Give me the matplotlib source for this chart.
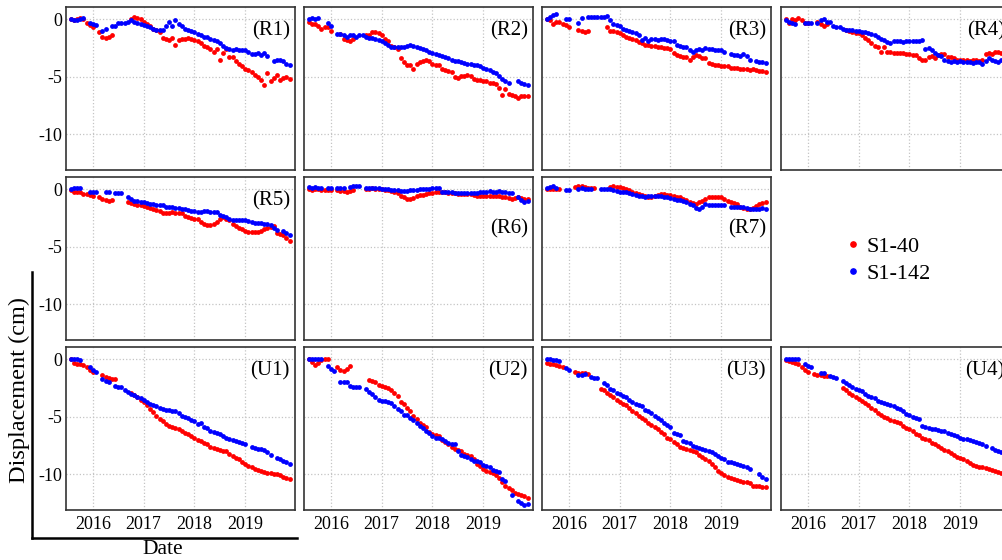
import numpy as np
import matplotlib.pyplot as plt
from matplotlib.lines import Line2D

plt.rcParams['font.family'] = ['Liberation Serif', 'DejaVu Serif']
plt.rcParams['axes.unicode_minus'] = False

nan = np.nan

# acquisition dates, decimal years
dates = [2015.562, 2015.625, 2015.688, 2015.750, 2015.812, 2015.875, 2015.938,
         2016.000, 2016.062, 2016.125, 2016.188, 2016.250, 2016.312, 2016.375, 2016.438,
         2016.500, 2016.562, 2016.625, 2016.688, 2016.750, 2016.812, 2016.875, 2016.938,
         2017.000, 2017.062, 2017.125, 2017.188, 2017.250, 2017.312, 2017.375, 2017.438,
         2017.500, 2017.562, 2017.625, 2017.688, 2017.750, 2017.812, 2017.875, 2017.938,
         2018.000, 2018.062, 2018.125, 2018.188, 2018.250, 2018.312, 2018.375, 2018.438,
         2018.500, 2018.562, 2018.625, 2018.688, 2018.750, 2018.812, 2018.875, 2018.938,
         2019.000, 2019.062, 2019.125, 2019.188, 2019.250, 2019.312, 2019.375, 2019.438,
         2019.500, 2019.562, 2019.625, 2019.688, 2019.750, 2019.812, 2019.875]

# displacement (cm), S1-40 track
r1_40 = [0, -0.1, 0, 0.1, 0, -0.3, -0.5,
         -0.7, nan, -1.1, -1.5, -1.6, -1.5, -1.4, nan, nan, nan, nan, nan, 0.0, 0.2, 0.1, 0.0,
         -0.2, -0.4, -0.6, -0.8, -0.9, -1.1, -1.6, -1.7, -1.8, -1.6, -2.2, -1.8, -1.7, -1.7, -1.6, -1.7,
         -1.8, -1.9, -2.1, -2.3, -2.4, -2.6, -2.8, -2.6, -3.5, -2.9, -2.6, -3.3, -3.3, -3.6, -3.9, -4.1,
         -4.3, -4.4, -4.6, -4.8, -5.0, -5.3, -5.7, -4.7, -5.4, -5.1, -4.8, -5.3, -5.1, -5.0, -5.2]
r2_40 = [-0.2, -0.4, -0.4, -0.6, -0.8, -0.7, -0.7,
         -1.0, nan, nan, -1.3, -1.7, -1.8, -1.9, -1.7, nan, nan, nan, -1.4, -1.4, -1.1, -1.1, -1.2,
         -1.4, -1.7, -1.9, -2.3, -2.4, -2.6, -3.4, -3.7, -4.0, -4.0, -4.3, -3.9, -3.7, -3.6, -3.5, -3.6,
         -3.9, -4.0, -4.0, -4.3, -4.4, -4.5, -4.6, -5.0, -5.1, -4.9, -4.9, -4.8, -4.9, -5.2, -5.3, -5.3,
         -5.4, -5.4, -5.5, -5.5, -5.6, -6.0, -6.6, -6.1, -6.5, -6.6, -6.7, -6.8, -6.7, -6.7, -6.7]
r3_40 = [0.0, -0.1, -0.4, -0.2, -0.2, -0.4, -0.5,
         -0.7, nan, nan, -0.9, -1.0, -1.1, -1.0, nan, nan, nan, nan, nan, -0.7, -1.0, -1.0, -1.1,
         -1.2, -1.4, -1.5, -1.6, -1.7, -1.8, -2.0, -2.1, -2.2, -2.2, -2.3, -2.3, -2.4, -2.4, -2.5, -2.5,
         -2.6, -2.9, -3.1, -3.2, -3.3, -3.3, -3.5, -3.3, -3.1, -3.2, -3.4, -3.4, -3.8, -3.9, -4.0, -4.0,
         -4.1, -4.1, -4.1, -4.2, -4.2, -4.2, -4.3, -4.3, -4.3, -4.4, -4.3, -4.4, -4.5, -4.5, -4.6]
r4_40 = [0.0, -0.3, 0.0, -0.1, 0.1, -0.1, -0.3,
         -0.3, nan, nan, -0.2, -0.4, -0.6, -0.4, nan, nan, nan, nan, nan, -0.9, -1.0, -1.1, -1.2,
         -1.2, -1.4, -1.6, -1.8, -2.1, -2.3, -2.4, -2.8, -2.4, -2.8, -2.8, -2.9, -2.9, -2.9, -2.95, -3.0,
         -3.0, -3.1, -3.1, -3.4, -3.5, -3.5, -3.3, -3.2, -3.4, -3.1, -3.0, -3.0, -3.3, -3.3, -3.4, -3.5,
         -3.5, -3.5, -3.5, -3.6, -3.5, -3.5, -3.6, -3.5, -3.0, -2.9, -3.0, -2.8, -2.8, -2.9, -2.8]
r5_40 = [-0.1, -0.2, -0.2, -0.25, -0.4, -0.4, -0.5,
         -0.6, nan, -0.7, -0.8, -0.9, -1.0, -0.95, nan, nan, nan, nan, -1.1, -1.2, -1.3, -1.35, -1.4,
         -1.45, -1.5, -1.6, -1.7, -1.8, -1.85, -2.1, -2.1, -2.1, -2.0, -2.05, -2.1, -2.1, -2.3, -2.4, -2.5,
         -2.6, -2.6, -2.85, -3.0, -3.1, -3.1, -3.0, -2.8, -2.6, -2.45, -2.6, -2.7, -3.0, -3.2, -3.35, -3.45,
         -3.6, -3.7, -3.75, -3.7, -3.7, -3.6, -3.45, -3.4, -3.3, -3.15, -3.8, -3.9, -4.0, -4.2, -4.5]
r6_40 = [0.0, -0.1, 0.0, 0.0, -0.05, -0.05, -0.1,
         -0.1, nan, -0.1, -0.15, -0.15, -0.2, -0.15, -0.1, nan, nan, nan, 0.05, 0.05, 0.1, 0.05, 0.0,
         0.0, -0.05, -0.1, -0.15, -0.2, -0.3, -0.6, -0.7, -0.8, -0.8, -0.75, -0.6, -0.5, -0.5, -0.45, -0.35,
         -0.3, -0.25, -0.25, -0.2, -0.25, -0.3, -0.3, -0.35, -0.4, -0.4, -0.45, -0.45, -0.45, -0.5, -0.55, -0.55,
         -0.55, -0.55, -0.55, -0.55, -0.6, -0.6, -0.7, -0.7, -0.75, -0.8, -0.75, -0.7, -0.75, -0.8, -0.85]
r7_40 = [0.0, 0.05, 0.0, 0.0, 0.0, nan, nan,
         nan, nan, 0.2, 0.3, 0.25, 0.2, 0.1, 0.1, 0.1, nan, nan, nan, nan, 0.2, 0.25, 0.2,
         0.2, 0.1, 0.0, -0.1, -0.2, -0.3, -0.4, -0.5, -0.6, -0.65, -0.7, -0.6, -0.5, -0.45, -0.4, -0.5,
         -0.5, -0.6, -0.65, -0.7, -0.8, -0.9, -1.1, -1.2, -1.25, -1.1, -1.0, -0.8, -0.7, -0.7, -0.65, -0.7,
         -0.7, -0.8, -1.0, -1.1, -1.2, -1.3, -1.5, -1.6, -1.7, -1.7, -1.6, -1.45, -1.3, -1.2, -1.1]
u1_40 = [0.0, -0.3, -0.4, -0.4, -0.5, -0.7, -0.9,
         -1.1, nan, nan, -1.4, -1.5, -1.6, -1.7, -1.7, nan, nan, nan, nan, -2.9, -3.1, -3.3, -3.5,
         -3.7, -4.0, -4.3, -4.6, -4.9, -5.2, -5.4, -5.6, -5.8, -5.9, -6.0, -6.1, -6.2, -6.4, -6.5, -6.7,
         -6.8, -7.0, -7.1, -7.3, -7.4, -7.6, -7.7, -7.8, -7.9, -8.0, -8.0, -8.2, -8.4, -8.6, -8.7, -8.9,
         -9.1, -9.3, -9.4, -9.5, -9.6, -9.7, -9.8, -9.9, -9.9, -10.0, -10.0, -10.1, -10.2, -10.3, -10.4]
u2_40 = [0.0, -0.2, -0.5, -0.3, -0.1, 0.0, 0.0,
         nan, nan, -0.7, -0.9, -1.0, -0.8, -0.6, nan, nan, nan, nan, nan, -1.8, -1.9, -2.0, -2.2,
         -2.3, -2.4, -2.5, -2.7, -2.9, -3.2, -3.7, -3.9, -4.2, -4.5, -4.9, -5.2, -5.5, -5.7, -5.9, -6.3,
         -6.5, -6.6, -6.7, -7.0, -7.2, -7.4, -7.6, -7.8, -7.9, -8.0, -8.2, -8.3, -8.4, -8.7, -9.1, -9.3,
         -9.5, -9.7, -9.8, -9.9, -10.1, -10.3, -10.7, -11.0, -11.2, -11.4, -11.6, -11.7, -11.8, -11.9, -12.1]
u3_40 = [-0.3, -0.4, -0.4, -0.5, -0.6, -0.7, nan,
         nan, nan, -1.1, -1.2, -1.2, -1.2, -1.3, nan, nan, nan, -2.6, -2.7, -2.9, -3.1, -3.3, -3.5,
         -3.7, -3.9, -4.0, -4.2, -4.5, -4.7, -4.9, -5.1, -5.3, -5.5, -5.7, -5.9, -6.1, -6.3, -6.5, -6.8,
         -6.95, -7.2, -7.4, -7.6, -7.7, -7.8, -7.9, -8.0, -8.1, -8.3, -8.5, -8.7, -8.85, -9.1, -9.4, -9.7,
         -9.9, -10.1, -10.2, -10.3, -10.4, -10.45, -10.6, -10.65, -10.7, -10.75, -11.0, -11.0, -11.05, -11.1, -11.1]
u4_40 = [-0.05, -0.15, -0.25, -0.35, -0.45, -0.7, -0.9,
         -1.1, nan, -1.3, -1.35, -1.4, -1.45, -1.45, nan, nan, nan, nan, -2.5, -2.7, -2.9, -3.1, -3.3,
         -3.45, -3.6, -3.8, -4.0, -4.2, -4.4, -4.65, -4.8, -5.0, -5.1, -5.25, -5.35, -5.45, -5.55, -5.8, -5.95,
         -6.1, -6.25, -6.5, -6.6, -6.8, -6.9, -7.0, -7.25, -7.4, -7.55, -7.7, -7.85, -8.0, -8.15, -8.3, -8.5,
         -8.6, -8.7, -8.85, -9.0, -9.15, -9.25, -9.35, -9.4, -9.45, -9.5, -9.6, -9.7, -9.8, -9.9, -9.95]

# displacement (cm), S1-142 track
r1_142 = [0, -0.1, -0.1, 0, 0.1, nan, -0.3,
          -0.4, -0.5, nan, -1.0, -0.8, nan, -0.6, -0.6, -0.3, -0.3, -0.3, -0.2, -0.1, -0.2, -0.3, -0.4,
          -0.5, -0.6, -0.7, -0.8, -0.9, -0.9, -0.9, -0.6, -0.2, -0.6, -0.1, -0.4, -0.6, -0.8, -0.9, -1.0,
          -1.1, -1.3, -1.4, -1.5, -1.5, -1.7, -1.8, -1.9, -2.1, -2.3, -2.5, -2.6, -2.7, -2.6, -2.7, -2.7,
          -2.7, -2.8, -3.0, -3.0, -2.9, -3.1, -2.9, -3.2, nan, -3.6, -3.5, -3.5, -3.6, -3.9, -4.0]
r2_142 = [0.0, 0.1, 0.0, 0.1, nan, nan, -0.3,
          -0.6, nan, -1.3, -1.3, -1.4, -1.5, -1.4, -1.4, -1.5, -1.4, -1.4, -1.5, -1.6, -1.6, -1.7, -1.8,
          -1.9, -2.1, -2.2, -2.4, -2.4, -2.4, -2.4, -2.4, -2.3, -2.2, -2.3, -2.4, -2.5, -2.6, -2.7, -2.8,
          -2.9, -3.0, -3.1, -3.2, -3.3, -3.4, -3.5, -3.6, -3.6, -3.7, -3.8, -3.9, -3.9, -4.0, -4.0, -4.1,
          -4.2, -4.3, -4.4, -4.6, -4.7, -4.9, -5.2, -5.4, -5.5, nan, nan, -5.4, -5.5, -5.6, -5.7]
r3_142 = [0.0, 0.2, 0.4, 0.45, nan, nan, 0.0,
          0.0, nan, nan, -0.3, 0.1, nan, 0.2, 0.2, 0.2, 0.2, 0.2, 0.2, 0.3, -0.1, -0.4, -0.5,
          -0.6, -0.8, -0.9, -1.0, -1.1, -1.2, -1.4, -1.8, -1.6, -1.9, -1.7, -1.7, -1.8, -1.7, -1.7, -1.8,
          -1.9, -1.9, -2.2, -2.3, -2.4, -2.4, -2.7, -2.8, -2.7, -2.6, -2.7, -2.5, -2.6, -2.6, -2.7, -2.7,
          -2.7, -2.8, nan, -3.0, -3.1, -3.1, -3.2, -3.0, -3.2, -3.5, nan, -3.6, -3.7, -3.7, -3.8]
r4_142 = [-0.1, -0.2, -0.3, -0.4, nan, nan, -0.3,
          -0.35, -0.35, nan, -0.3, -0.1, 0.0, -0.2, -0.2, -0.6, -0.7, -0.7, -0.8, -0.9, -0.9, -0.95, -1.0,
          -1.0, -1.1, -1.1, -1.2, -1.3, -1.4, -1.5, -1.7, -1.8, -2.0, -2.1, -1.9, -1.85, -1.9, -1.95, -1.9,
          -1.9, -1.85, -1.9, -1.85, -1.8, -2.6, -2.5, -2.7, -2.9, -3.1, -3.2, -3.5, -3.6, -3.7, -3.6, -3.7,
          -3.6, -3.7, -3.7, -3.7, -3.8, -3.7, -3.7, -3.85, -3.6, -3.4, -3.5, -3.6, -3.7, -3.5, -3.6]
r5_142 = [0.0, 0.1, 0.1, 0.1, nan, nan, -0.2,
          -0.2, -0.2, nan, nan, -0.2, -0.2, nan, -0.3, -0.3, -0.3, nan, -0.7, -0.8, -1.0, -1.0, -1.1,
          -1.1, -1.2, -1.3, -1.3, -1.35, -1.4, -1.4, -1.5, -1.55, -1.55, -1.6, -1.65, -1.7, -1.7, -1.8, -1.9,
          -1.9, -2.0, -1.95, -1.9, -1.9, -1.95, -2.0, -2.0, -2.2, -2.3, -2.4, -2.6, -2.7, -2.7, -2.7, -2.7,
          -2.7, -2.75, -2.8, -2.9, -2.9, -2.9, -3.0, -3.05, -3.1, -3.4, -3.5, nan, -3.6, -3.8, -3.95]
r6_142 = [0.2, 0.15, 0.2, 0.1, 0.1, nan, 0.1,
          0.1, nan, 0.1, 0.1, 0.1, nan, 0.2, 0.25, 0.3, 0.25, nan, 0.1, 0.15, 0.1, 0.1, 0.1,
          0.05, 0.05, 0.0, -0.05, -0.05, -0.1, -0.15, -0.15, -0.15, -0.1, -0.1, -0.05, 0.0, 0.0, 0.05, 0.05,
          0.1, 0.1, 0.1, -0.2, -0.2, -0.2, -0.25, -0.3, -0.3, -0.35, -0.35, -0.3, -0.35, -0.3, -0.3, -0.25,
          -0.25, -0.2, -0.15, -0.2, -0.2, -0.15, -0.2, -0.25, -0.35, -0.35, nan, -0.7, -0.9, -1.1, -1.0]
r7_142 = [0.1, 0.2, 0.3, 0.1, nan, nan, -0.1,
          -0.1, nan, nan, 0.05, 0.1, 0.05, 0.05, 0.0, nan, nan, 0.05, 0.05, 0.05, 0.0, -0.1, -0.15,
          -0.2, -0.2, -0.25, -0.3, -0.4, -0.5, -0.55, -0.6, -0.65, -0.6, -0.6, -0.6, -0.55, -0.6, -0.65, -0.7,
          -0.75, -0.85, -0.9, -0.95, -1.0, -1.1, -1.25, -1.4, -1.6, -1.7, -1.5, -1.3, -1.35, -1.4, -1.35, -1.35,
          -1.4, -1.4, nan, -1.5, -1.55, -1.55, -1.5, -1.55, -1.6, -1.7, -1.7, -1.7, -1.75, -1.6, -1.7]
u1_142 = [0.0, 0.0, 0.0, -0.1, nan, nan, -0.7,
          -0.9, -1.1, nan, -1.7, -1.9, -2.0, nan, -2.3, -2.4, -2.4, -2.7, -2.8, -3.0, -3.1, -3.3, -3.4,
          -3.5, -3.7, -3.9, -4.0, -4.1, -4.2, -4.3, -4.4, -4.4, -4.5, -4.5, -4.7, -4.9, -5.0, -5.1, -5.3,
          -5.4, -5.6, -5.5, -5.9, -6.0, -6.2, -6.3, -6.4, -6.5, -6.7, -6.8, -6.9, -7.0, -7.1, -7.2, -7.3,
          -7.4, nan, -7.6, -7.7, -7.8, -7.8, -7.9, -8.1, -8.3, nan, -8.6, -8.7, -8.8, -8.9, -9.1]
u2_142 = [0.0, 0.0, 0.0, 0.0, 0.0, nan, -0.6,
          -0.8, -1.0, nan, -2.0, -2.0, -2.0, -2.3, -2.4, -2.4, -2.4, nan, -2.6, -2.8, -3.0, -3.3, -3.5,
          -3.6, -3.6, -3.7, -3.8, -4.1, -4.3, -4.5, -4.8, -4.8, -5.1, -5.3, -5.5, -5.8, -6.0, -6.2, -6.4,
          -6.7, -6.8, -6.8, -6.9, -7.1, -7.3, -7.4, -7.4, -8.0, -8.3, -8.4, -8.5, -8.7, -8.8, -8.85, -8.9,
          -9.2, -9.3, -9.4, -9.6, -9.75, -9.8, -10.4, -10.6, nan, -11.8, nan, -12.3, -12.5, -12.7, -12.6]
u3_142 = [0.0, 0.0, -0.1, -0.1, -0.15, nan, -0.75,
          -0.9, nan, nan, -1.4, -1.35, -1.3, nan, -1.5, -1.6, -1.6, nan, -2.1, -2.2, -2.6, -2.7, -2.9,
          -3.0, -3.2, -3.3, -3.5, -3.7, -3.85, -4.0, -4.1, -4.4, -4.5, -4.65, -4.9, -5.1, -5.3, -5.5, -5.7,
          -5.9, -6.4, -6.5, -6.6, -7.1, -7.2, -7.3, -7.5, -7.6, -7.7, -7.8, -7.9, -8.0, -8.1, -8.2, -8.4,
          -8.6, -8.7, -8.9, -8.95, -9.0, -9.1, -9.15, -9.3, -9.4, -9.5, nan, nan, -10.0, -10.2, -10.4]
u4_142 = [0.0, 0.0, 0.0, 0.05, 0.0, nan, -0.45,
          -0.55, -0.65, nan, nan, -1.15, -1.15, nan, -1.45, -1.5, -1.6, nan, -1.9, -2.05, -2.2, -2.4, -2.55,
          -2.65, -2.75, -3.0, -3.15, -3.25, -3.35, -3.6, -3.7, -3.8, -3.9, -4.0, -4.1, -4.2, -4.3, -4.5, -4.75,
          -4.85, -5.0, -5.1, -5.2, -5.8, -5.9, -6.0, -6.05, -6.1, -6.15, -6.2, -6.25, -6.4, -6.5, -6.6, -6.7,
          -6.8, -6.9, -6.95, -7.0, -7.1, -7.2, -7.3, -7.4, -7.5, nan, -7.7, -7.85, -8.0, -8.1, -8.2]

names = ['(R1)', '(R2)', '(R3)', '(R4)', '(R5)', '(R6)', '(R7)', '(U1)', '(U2)', '(U3)', '(U4)']
s1_40 = [r1_40, r2_40, r3_40, r4_40, r5_40, r6_40, r7_40, u1_40, u2_40, u3_40, u4_40]
s1_142 = [r1_142, r2_142, r3_142, r4_142, r5_142, r6_142, r7_142, u1_142, u2_142, u3_142, u4_142]
# grid slot (row, col) of each panel
slots = [(0, 0), (0, 1), (0, 2), (0, 3), (1, 0), (1, 1), (1, 2), (2, 0), (2, 1), (2, 2), (2, 3)]

W, H = 1002, 560
fig = plt.figure(figsize=(W / 100, H / 100), dpi=100)

col_x = [66, 304, 542, 781]   # left edges, px
row_y = [7, 177, 347]         # top edges, px
pw, ph = 229, 163

for name, a, b, (r, c) in zip(names, s1_40, s1_142, slots):
    ax = fig.add_axes([col_x[c] / W, 1 - (row_y[r] + ph) / H, pw / W, ph / H])
    ax.scatter(dates, a, s=12, color='red', linewidths=0, zorder=3)
    ax.scatter(dates, b, s=12, color='blue', linewidths=0, zorder=3)
    ax.set_xlim(2015.47, 2019.98)
    ax.set_ylim(-13.1, 1.07)
    ax.set_xticks([2016, 2017, 2018, 2019])
    ax.set_yticks([0, -5, -10])
    ax.grid(True, color='#c4c4c4', linestyle=':', linewidth=0.9)
    ax.tick_params(length=0, labelsize=13)
    ax.tick_params(axis='y', pad=3)
    ax.tick_params(axis='x', pad=4)
    for sp in ax.spines.values():
        sp.set_color('#333333')
        sp.set_linewidth(1.2)
    if c != 0:
        ax.set_yticklabels([])
    if r != 2:
        ax.set_xticklabels([])
    ty = 0.68 if name in ('(R6)', '(R7)') else 0.855
    ax.text(0.978, ty, name, transform=ax.transAxes, ha='right', va='center', fontsize=15)

# legend in the empty slot
handles = [Line2D([], [], marker='o', color='red', ls='', ms=3.8),
           Line2D([], [], marker='o', color='blue', ls='', ms=3.8)]
fig.legend(handles, ['S1-40', 'S1-142'], loc='center left',
           bbox_to_anchor=(846 / W, 1 - 260 / H), frameon=False, fontsize=16,
           handlelength=0.6, handletextpad=0.3, labelspacing=0.3,
           borderpad=0, borderaxespad=0)

# outer L-shaped axis with common labels
fig.add_artist(Line2D([32 / W, 32 / W], [1 - 272 / H, 1 - 538 / H], color='black', lw=1.8))
fig.add_artist(Line2D([32 / W, 297 / W], [1 - 538 / H, 1 - 538 / H], color='black', lw=1.8))
fig.text(19 / W, 1 - 390 / H, 'Displacement (cm)', rotation=90, ha='center', va='center', fontsize=17.5)
fig.text(163 / W, 1 - 549 / H, 'Date', ha='center', va='center', fontsize=15.5)

fig.savefig('out.png', dpi=100)
